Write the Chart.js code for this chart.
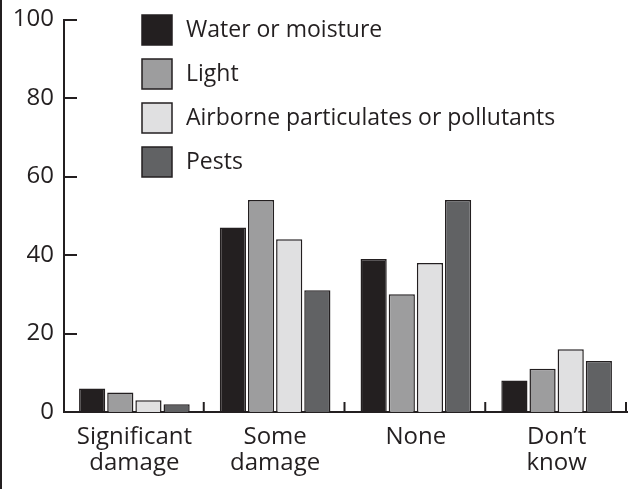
<!DOCTYPE html>
<html><head><meta charset="utf-8">
<script src="https://cdn.jsdelivr.net/npm/chart.js@4.4.1/dist/chart.umd.min.js"></script>
<style>
html,body{margin:0;padding:0;background:#fff;}
#wrap{position:relative;width:633px;height:489px;box-sizing:border-box;border-left:2px solid #231f20;}
canvas{position:absolute;left:-2px;top:0;}
</style></head>
<body><div id="wrap"><canvas id="c" width="633" height="489"></canvas></div>
<script>
const categories = [["Significant","damage"],["Some","damage"],["None"],["Don\u2019t","know"]];
const seriesNames = ["Water or moisture","Light","Airborne particulates or pollutants","Pests"];
const water = [6, 47, 39, 8];
const light = [5, 54, 30, 11];
const airborne = [3, 44, 38, 16];
const pests = [2, 31, 54, 13];
const yTicks = [0, 20, 40, 60, 80, 100];

const colors = ["#231f20", "#9d9d9e", "#e0e0e1", "#616264"];
const ink = "#231f20";
const FONT = "'Open Sans', Lato, sans-serif";

const values = [water, light, airborne, pests];
const datasets = seriesNames.map((n,i)=>({
  label:n, data:values[i], backgroundColor:colors[i], borderColor:ink, borderWidth:1.5,
  barPercentage:0.93, categoryPercentage:0.8, borderSkipped:'bottom'
}));

const overlay = {
  id:'overlay',
  afterDraw(chart){
    const ctx = chart.ctx, x = chart.scales.x, y = chart.scales.y;
    ctx.save();
    ctx.strokeStyle = ink; ctx.lineWidth = 2;
    yTicks.forEach(v=>{
      if (v===0) return;
      const py = Math.round(y.getPixelForValue(v));
      ctx.beginPath(); ctx.moveTo(x.left, py); ctx.lineTo(x.left+13, py); ctx.stroke();
    });
    const n = categories.length;
    for (let i=1;i<=n;i++){
      const px = x.left + (x.right - x.left)*i/n;
      ctx.beginPath(); ctx.moveTo(px-1, y.bottom); ctx.lineTo(px-1, y.bottom-10); ctx.stroke();
    }
    ctx.font = "23px " + FONT;
    ctx.textBaseline = 'middle'; ctx.textAlign = 'left';
    seriesNames.forEach((name,i)=>{
      const cy = 30 + i*44;
      ctx.fillStyle = colors[i];
      ctx.fillRect(142, cy-15, 30, 30);
      ctx.lineWidth = 1.5; ctx.strokeStyle = ink;
      ctx.strokeRect(142, cy-15, 30, 30);
      ctx.fillStyle = ink;
      ctx.fillText(name, 186, cy);
    });
    ctx.restore();
  }
};

new Chart(document.getElementById('c'), {
  type:'bar',
  data:{labels:categories, datasets},
  options:{
    responsive:false, animation:false,
    layout:{padding:{top:9, right:6, left:0, bottom:0}},
    plugins:{legend:{display:false}, tooltip:{enabled:false}},
    scales:{
      x:{
        grid:{display:false, drawTicks:false},
        border:{display:true, color:ink, width:2},
        ticks:{color:ink, font:{family:FONT, size:24, lineHeight:1.08}, padding:12, maxRotation:0, autoSkip:false},
        afterFit(s){ s.height = 77; }
      },
      y:{
        min:0, max:100,
        afterBuildTicks(s){ s.ticks = yTicks.map(v=>({value:v})); },
        grid:{display:false, drawTicks:false},
        border:{display:true, color:ink, width:2},
        ticks:{color:ink, font:{family:FONT, size:24, lineHeight:0.8}, padding:10},
        afterFit(s){ s.width = 64; }
      }
    }
  },
  plugins:[overlay]
});
</script>
</body></html>
